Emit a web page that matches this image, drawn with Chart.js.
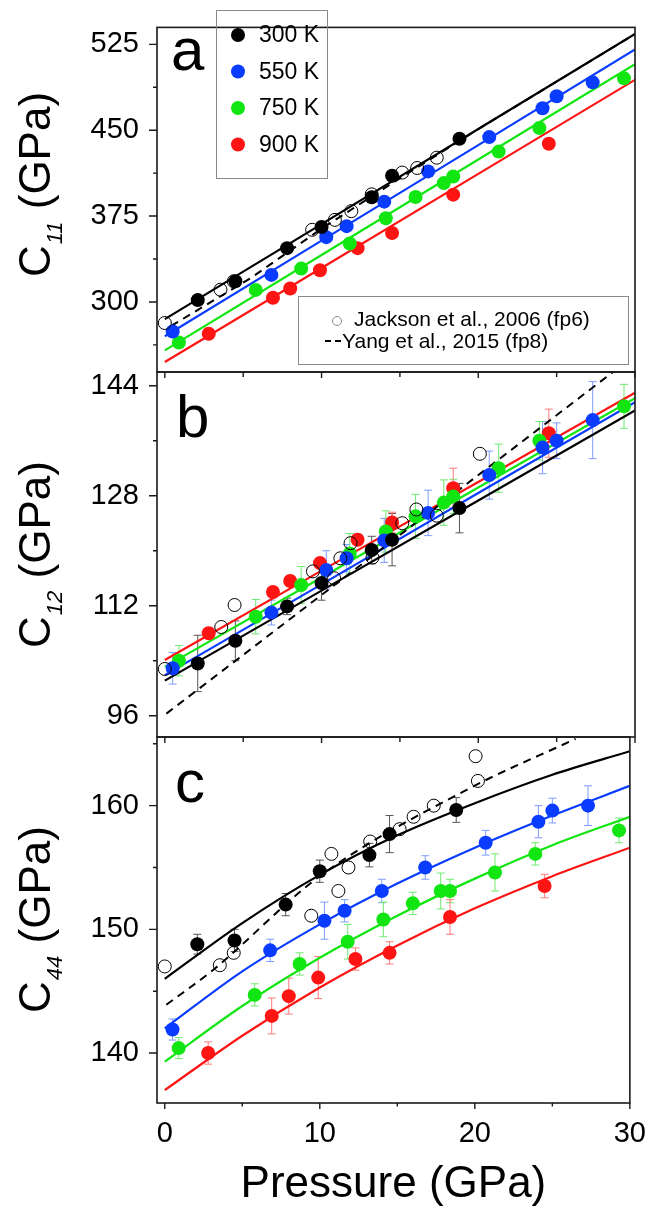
<!DOCTYPE html>
<html>
<head>
<meta charset="utf-8">
<script src="https://cdn.jsdelivr.net/npm/chart.js@4.4.1/dist/chart.umd.min.js"></script>
<style>
  html, body { margin: 0; padding: 0; background: #fff; }
  #wrap { position: relative; width: 652px; height: 1211px; }
  #wrap canvas { position: absolute; left: 0; top: 0; }
</style>
</head>
<body>
<div id="wrap">
  <canvas id="chartA" width="652" height="1211"></canvas>
  <canvas id="chartB" width="652" height="1211"></canvas>
  <canvas id="chartC" width="652" height="1211"></canvas>
</div>
<script>
// pressures (GPa) of each temperature run, shared by the three panels
const pressure300 = [2.1, 4.5, 7.8, 10.0, 13.2, 14.5, 18.8];
const pressure550 = [0.5, 6.8, 10.3, 11.6, 14.0, 16.8, 20.7, 24.1, 25.0, 27.3];
const pressure750 = [0.9, 5.8, 8.7, 11.8, 14.1, 16.0, 17.8, 18.4, 21.3, 23.9, 29.3];
const pressure900 = [2.8, 6.9, 8.0, 9.9, 12.3, 14.5, 18.4, 24.5];

// panel a : C11
const c11_300 = [301.6, 318.1, 347, 365.4, 391.5, 410.2, 442.6];
const c11_550 = [274.2, 323.6, 356.6, 366.2, 387.6, 414, 444, 469.2, 479.7, 491.8];
const c11_750 = [264.6, 310.5, 329.1, 351.1, 373.1, 391.7, 403.8, 409.6, 431.3, 451.9, 495.3];
const c11_900 = [272.2, 303.6, 311.8, 327.7, 347, 360.2, 393.7, 438.2];
const jacksonP_a = [0, 3.55, 4.4, 9.4, 10.85, 11.9, 13.2, 15.15, 16.1, 17.35];
const jackson_c11 = [281.6, 310.7, 318, 363, 371.7, 379.3, 394, 413, 417, 426];
const fitP_ab = [0, 10, 20, 30];
const fit_c11_300 = [285, 368, 451, 534];
const fit_c11_550 = [270, 353.5, 437, 520.6];
const fit_c11_750 = [257.7, 341, 424.4, 507.7];
const fit_c11_900 = [247.5, 329.7, 411.9, 494];
const yangP_a = [0.4, 5.5, 10, 15, 20, 30];
const yang_c11 = [279, 321, 364, 408, 451, 534];
const ticks_c11 = [300, 375, 450, 525];
const minor_c11 = [262.5, 337.5, 412.5, 487.5];

// panel b : C12
const c12_300 = [103.6, 106.9, 111.9, 115.3, 120.1, 121.6, 126.2];
const c12_300_err = [4.1, 2.9, 1.2, 2.5, 2.0, 3.8, 3.6];
const c12_550 = [102.9, 111, 117.2, 118.9, 121.5, 125.5, 131, 135, 136, 139];
const c12_550_err = [2.3, 1.8, 2.8, 2.0, 3.2, 3.3, 3.5, 3.8, 2.6, 5.6];
const c12_750 = [104, 110.4, 115, 119.6, 122.8, 125, 127, 127.9, 132, 136, 141];
const c12_750_err = [2.2, 2.5, 2.7, 2.9, 3.0, 3.2, 3.3, 2.5, 3.5, 2.8, 3.2];
const c12_900 = [108, 114, 115.6, 118.2, 121.6, 124.1, 129.1, 137.1];
const c12_900_err = [0.8, 0.8, 0.8, 0.8, 0.8, 1.5, 2.9, 3.5];
const jacksonP_b = [0, 3.6, 4.45, 9.45, 10.8, 11.2, 11.85, 13.25, 15.15, 16.05, 17.35, 20.1];
const jackson_c12 = [102.8, 108.9, 112.1, 117, 116, 118.9, 121.1, 119, 124, 126, 125.1, 134.1];
const fit_c12_300 = [101.1, 114.2, 127.3, 140.4];
const fit_c12_550 = [101.9, 115.1, 128.4, 141.6];
const fit_c12_750 = [103.1, 116.1, 129.2, 142.2];
const fit_c12_900 = [104.1, 117.1, 130, 143];
const yangP_b = [0.1, 28.6];
const yang_c12 = [96.3, 146];
const ticks_c12 = [96, 112, 128, 144];
const minor_c12 = [104, 120, 136];

// panel c : C44
const c44_300 = [148.8, 149.1, 152, 154.7, 156, 157.7, 159.65];
const c44_300_err = [0.8, 0.9, 0.9, 0.9, 0.95, 1.5, 1.0];
const c44_550 = [141.9, 148.3, 150.7, 151.5, 153.1, 155, 157, 158.7, 159.6, 160];
const c44_550_err = [0.85, 0.9, 1.5, 0.9, 0.95, 0.95, 1.0, 1.3, 1.0, 1.6];
const c44_750 = [140.4, 144.7, 147.2, 149, 150.8, 152.1, 153.1, 153.1, 154.6, 156.1, 158];
const c44_750_err = [0.85, 0.9, 0.9, 1.4, 1.4, 0.9, 1.45, 0.95, 1.5, 0.9, 1.0];
const c44_900 = [140, 143, 144.6, 146.1, 147.6, 148.1, 151, 153.5];
const c44_900_err = [0.9, 1.45, 1.45, 1.7, 0.9, 0.9, 1.4, 0.95];
const jacksonP_c = [0, 3.55, 4.45, 9.45, 10.75, 11.2, 11.85, 13.25, 15.15, 16.05, 17.35, 20.2, 20.05];
const jackson_c44 = [147, 147.1, 148.1, 151.1, 156.1, 153.1, 155, 157.1, 158.1, 159.1, 160, 162, 164];
const fitP_c = [0, 5, 10, 15, 20, 25, 30];
const fit_c44_300 = [146, 150.5, 154.4, 157.6, 160.2, 162.5, 164.4];
const fit_c44_550 = [142, 146.6, 150.4, 153.7, 156.6, 159.2, 161.6];
const fit_c44_750 = [139.3, 143.8, 147.7, 151.1, 154.1, 156.8, 159.1];
const fit_c44_900 = [137, 141.4, 145.3, 148.7, 151.7, 154.3, 156.6];
const yangP_c = [0.1, 3.1, 10, 19.5, 26.5];
const yang_c44 = [143.9, 146.7, 154.3, 161.3, 165.4];
const ticks_c44 = [140, 150, 160];
const minor_c44 = [145, 155, 165];

const ticksP = [0, 10, 20, 30];
const minorP = [5, 15, 25];
const tempLabels = ['300 K', '550 K', '750 K', '900 K'];

const FONT = '"Liberation Sans", Arial, sans-serif';
const colors = ['#000000', '#0a3cff', '#12e612', '#ff1414'];
const errColors = ['#555555', '#7f9cff', '#6fea6f', '#ff7a7a'];

Chart.defaults.font.family = FONT;
Chart.defaults.color = '#000';

function xy(xs, ys) {
  return xs.map((x, i) => ({ x: x, y: ys[i] }));
}

function pointSet(xs, ys, k, errs) {
  return {
    data: xy(xs, ys),
    pointRadius: 7,
    pointBackgroundColor: colors[k],
    pointBorderWidth: 0,
    showLine: false,
    errorBars: errs || null,
    errorColor: errColors[k]
  };
}

function openSet(xs, ys) {
  return {
    data: xy(xs, ys),
    pointRadius: 6.5,
    pointBackgroundColor: 'rgba(0,0,0,0)',
    pointBorderColor: '#000',
    pointBorderWidth: 1,
    showLine: false
  };
}

function lineSet(xs, ys, color, dashed, curved) {
  return {
    data: xy(xs, ys),
    showLine: true,
    pointRadius: 0,
    borderColor: color,
    borderWidth: dashed ? 2 : 2.2,
    borderDash: dashed ? [8, 6] : [],
    cubicInterpolationMode: curved ? 'monotone' : 'default',
    fill: false,
    clip: 0
  };
}

const errorBarPlugin = {
  id: 'errorBars',
  beforeDatasetsDraw(chart) {
    const ctx = chart.ctx;
    const yScale = chart.scales.y;
    chart.data.datasets.forEach((ds, i) => {
      if (!ds.errorBars) return;
      const meta = chart.getDatasetMeta(i);
      ctx.save();
      ctx.strokeStyle = ds.errorColor;
      ctx.lineWidth = 1;
      meta.data.forEach((pt, j) => {
        const e = ds.errorBars[j];
        const v = ds.data[j].y;
        const top = yScale.getPixelForValue(v + e);
        const bot = yScale.getPixelForValue(v - e);
        ctx.beginPath();
        ctx.moveTo(pt.x, top); ctx.lineTo(pt.x, bot);
        ctx.moveTo(pt.x - 4, top); ctx.lineTo(pt.x + 4, top);
        ctx.moveTo(pt.x - 4, bot); ctx.lineTo(pt.x + 4, bot);
        ctx.stroke();
      });
      ctx.restore();
    });
  }
};

const decorPlugin = {
  id: 'decor',
  afterDraw(chart, args, opts) {
    const ctx = chart.ctx;
    const ca = chart.chartArea;
    const xs = chart.scales.x, ys = chart.scales.y;
    ctx.save();
    ctx.strokeStyle = '#1a1a1a';
    ctx.lineWidth = 1.6;
    ctx.strokeRect(ca.left, ca.top, ca.right - ca.left, ca.bottom - ca.top);

    ctx.lineWidth = 1.4;
    ctx.beginPath();
    opts.yMajor.forEach(v => {
      const py = ys.getPixelForValue(v);
      ctx.moveTo(ca.left, py); ctx.lineTo(ca.left - 8, py);
    });
    opts.yMinor.forEach(v => {
      const py = ys.getPixelForValue(v);
      ctx.moveTo(ca.left, py); ctx.lineTo(ca.left - 4, py);
    });
    ticksP.forEach(v => {
      const px = xs.getPixelForValue(v);
      ctx.moveTo(px, ca.bottom); ctx.lineTo(px, ca.bottom + 6);
    });
    minorP.forEach(v => {
      const px = xs.getPixelForValue(v);
      ctx.moveTo(px, ca.bottom); ctx.lineTo(px, ca.bottom + (opts.bottomPanel ? 3.5 : 5));
    });
    ctx.stroke();

    // panel letter
    ctx.fillStyle = '#000';
    ctx.font = '60px ' + FONT;
    ctx.textBaseline = 'alphabetic';
    ctx.textAlign = 'left';
    ctx.fillText(opts.letter, opts.letterX, opts.letterY);

    // rotated y title with subscript
    ctx.save();
    ctx.translate(50, opts.titleY);
    ctx.rotate(-Math.PI / 2);
    const big = '44px ' + FONT, small = 'italic 22px ' + FONT;
    ctx.font = big;
    const wC = ctx.measureText('C').width;
    const wR = ctx.measureText(' (GPa)').width;
    ctx.font = small;
    const wS = ctx.measureText(opts.sub).width;
    let x0 = -(wC + wS + wR) / 2;
    ctx.font = big;
    ctx.fillText('C', x0, 0);
    ctx.font = small;
    ctx.fillText(opts.sub, x0 + wC + 1, 12);
    ctx.font = big;
    ctx.fillText(' (GPa)', x0 + wC + wS + 1, 0);
    ctx.restore();

    if (opts.legends) {
      // temperature legend
      ctx.lineWidth = 1;
      ctx.strokeStyle = '#8a8a8a';
      ctx.strokeRect(216.5, 10.5, 111, 168);
      ctx.font = '23px ' + FONT;
      ctx.textBaseline = 'middle';
      tempLabels.forEach((t, k) => {
        const yy = 35 + k * 36.5;
        ctx.fillStyle = colors[k];
        ctx.beginPath();
        ctx.arc(238, yy, 7, 0, Math.PI * 2);
        ctx.fill();
        ctx.fillStyle = '#000';
        ctx.fillText(t, 259, yy + 1);
      });
      // literature legend
      ctx.strokeRect(298.5, 296.5, 330, 68);
      ctx.beginPath();
      ctx.arc(337, 321, 4.5, 0, Math.PI * 2);
      ctx.stroke();
      ctx.strokeStyle = '#000';
      ctx.lineWidth = 2;
      ctx.beginPath();
      ctx.moveTo(325, 341); ctx.lineTo(331, 341);
      ctx.moveTo(335, 341); ctx.lineTo(341, 341);
      ctx.stroke();
      ctx.font = '21px ' + FONT;
      ctx.textBaseline = 'alphabetic';
      ctx.fillText('Jackson et al., 2006 (fp6)', 354, 326);
      ctx.fillText('Yang et al., 2015 (fp8)', 342, 348);
    }
    ctx.restore();
  }
};

function makePanel(id, datasets, yMin, yMax, yTicks, padTop, padBottom, bottomPanel, decor) {
  const xAxis = {
    type: 'linear',
    min: -0.5,
    max: 30,
    display: bottomPanel,
    grid: { display: false },
    border: { display: false },
    afterBuildTicks: s => { s.ticks = ticksP.map(v => ({ value: v })); },
    ticks: { font: { size: 29 }, color: '#000', padding: 6, maxRotation: 0 },
    title: {
      display: bottomPanel,
      text: 'Pressure (GPa)',
      font: { size: 44 },
      color: '#000',
      padding: { top: 0, bottom: 0 }
    }
  };
  if (bottomPanel) xAxis.afterFit = s => { s.height = 108; };
  decor.bottomPanel = bottomPanel;
  decor.yMajor = yTicks;
  return new Chart(document.getElementById(id), {
    type: 'scatter',
    data: { datasets: datasets },
    options: {
      responsive: false,
      animation: false,
      events: [],
      layout: { padding: { top: padTop, right: 17, bottom: padBottom, left: 0 } },
      scales: {
        x: xAxis,
        y: {
          min: yMin,
          max: yMax,
          grid: { display: false },
          border: { display: false },
          afterBuildTicks: s => { s.ticks = yTicks.map(v => ({ value: v })); },
          afterFit: s => { s.width = 157; },
          ticks: { font: { size: 29 }, color: '#000', padding: 10 }
        }
      },
      plugins: {
        legend: { display: false },
        tooltip: { enabled: false },
        decor: decor
      }
    },
    plugins: [errorBarPlugin, decorPlugin]
  });
}

makePanel('chartA', [
  pointSet(pressure300, c11_300, 0),
  openSet(jacksonP_a, jackson_c11),
  pointSet(pressure550, c11_550, 1),
  pointSet(pressure750, c11_750, 2),
  pointSet(pressure900, c11_900, 3),
  lineSet(yangP_a, yang_c11, '#000', true, false),
  lineSet(fitP_ab, fit_c11_300, colors[0], false, false),
  lineSet(fitP_ab, fit_c11_550, colors[1], false, false),
  lineSet(fitP_ab, fit_c11_750, colors[2], false, false),
  lineSet(fitP_ab, fit_c11_900, colors[3], false, false)
], 238.8, 539.8, ticks_c11, 6, 1211 - 372, false,
  { letter: 'a', letterX: 171, letterY: 70, sub: '11', titleY: 185, yMinor: minor_c11, legends: true });

makePanel('chartB', [
  pointSet(pressure300, c12_300, 0, c12_300_err),
  openSet(jacksonP_b, jackson_c12),
  pointSet(pressure550, c12_550, 1, c12_550_err),
  pointSet(pressure750, c12_750, 2, c12_750_err),
  pointSet(pressure900, c12_900, 3, c12_900_err),
  lineSet(yangP_b, yang_c12, '#000', true, false),
  lineSet(fitP_ab, fit_c12_300, colors[0], false, false),
  lineSet(fitP_ab, fit_c12_550, colors[1], false, false),
  lineSet(fitP_ab, fit_c12_750, colors[2], false, false),
  lineSet(fitP_ab, fit_c12_900, colors[3], false, false)
], 92.9, 146, ticks_c12, 372, 1211 - 737, false,
  { letter: 'b', letterX: 176, letterY: 437, sub: '12', titleY: 555, yMinor: minor_c12, legends: false });

makePanel('chartC', [
  pointSet(pressure300, c44_300, 0, c44_300_err),
  openSet(jacksonP_c, jackson_c44),
  pointSet(pressure550, c44_550, 1, c44_550_err),
  pointSet(pressure750, c44_750, 2, c44_750_err),
  pointSet(pressure900, c44_900, 3, c44_900_err),
  lineSet(yangP_c, yang_c44, '#000', true, true),
  lineSet(fitP_c, fit_c44_300, colors[0], false, true),
  lineSet(fitP_c, fit_c44_550, colors[1], false, true),
  lineSet(fitP_c, fit_c44_750, colors[2], false, true),
  lineSet(fitP_c, fit_c44_900, colors[3], false, true)
], 135.96, 165.55, ticks_c44, 737, 0, true,
  { letter: 'c', letterX: 175, letterY: 802, sub: '44', titleY: 920, yMinor: minor_c44, legends: false });
</script>
</body>
</html>
